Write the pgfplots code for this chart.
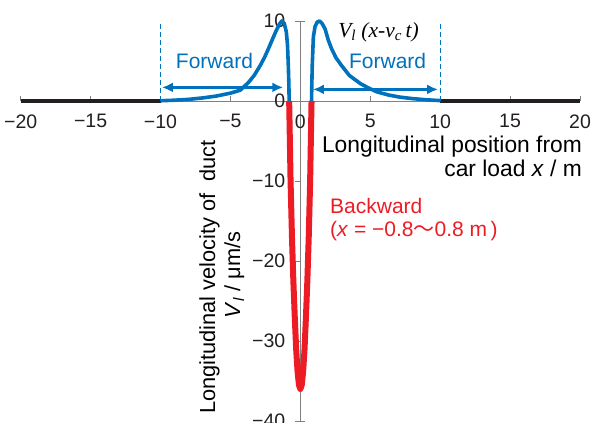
\documentclass[border=0pt]{standalone}
\usepackage{fontspec}
\setmainfont{Liberation Sans}
\newfontfamily\serif{Liberation Serif}
\newfontfamily\cjk{Noto Sans CJK JP}
\usepackage{pgfplots}
\pgfplotsset{compat=1.18}
\usetikzlibrary{arrows.meta}
\definecolor{cblue}{HTML}{0071BC}
\definecolor{cred}{HTML}{ED1C24}
\definecolor{cblack}{HTML}{231F20}
\definecolor{axgray}{HTML}{808080}
\newcommand\tickfont{\fontsize{19.5}{20}\selectfont}
\newcommand\lblfont{\fontsize{21}{24}\selectfont}
\newcommand\axlblfont{\fontsize{22.8}{26}\selectfont}
\newcommand\aylblfont{\fontsize{21.8}{26}\selectfont}
\begin{document}
\begin{tikzpicture}
\begin{axis}[
  scale only axis, width=559.3pt, height=400pt,
  xmin=-20, xmax=20, ymin=-40, ymax=10,
  axis x line=middle, axis y line=middle,
  axis line style={-, draw=axgray, line width=0.9pt},
  hide obscured x ticks=false, hide obscured y ticks=false,
  xtick={-20,-15,...,20}, ytick={-40,-30,...,10},
  xticklabels={−20,−15,−10,−5,0,5,10,15,20},
  yticklabels={−40,−30,−20,−10,0,10},
  tick label style={font=\tickfont, text=cblack},
  tick align=center, major tick length=5pt,
  tick style={draw=axgray, line width=0.9pt},
  xtick style={yshift=2.5pt},
  ytick style={xshift=-2.5pt},
  xticklabel style={anchor=north, yshift=-7.5pt},
  yticklabel style={anchor=east, xshift=-9pt},
  clip=false,
]
\coordinate (LL) at (axis cs:-20,-40);
\coordinate (UR) at (axis cs:20,10);
\addplot[cblack, line width=4pt] coordinates {(-20,0) (-10,0)};
\addplot[cblack, line width=4pt] coordinates {(10,0) (20,0)};
\addplot[cblue, line width=3.6pt, line join=round] coordinates {
(-10,0.03) (-9,0.1) (-8,0.2) (-7,0.38) (-6,0.62) (-5,0.98) (-4.3,1.35) (-3.72,2.3) (-3.3,3.2) (-2.88,4.4) (-2.55,5.5) (-2.29,6.5) (-2.0,7.7) (-1.75,8.7) (-1.5,9.6) (-1.33,10.0) (-1.15,9.7) (-1.0,8.6) (-0.92,7.0) (-0.86,4.4) (-0.82,2.0) (-0.8,0)};
\addplot[cblue, line width=3.6pt, line join=round] coordinates {
(0.8,0) (0.82,2.0) (0.85,4.4) (0.93,8.0) (1.05,9.3) (1.2,9.85) (1.37,10.0) (1.55,9.7) (1.77,9.0) (2.0,7.6) (2.24,6.5) (2.55,5.4) (2.96,4.4) (3.5,3.2) (4.27,2.2) (4.9,1.6) (5.46,1.15) (6.3,0.75) (7.13,0.48) (8,0.3) (9,0.15) (10,0.05)};
\addplot[cred, line width=6pt, line join=round] coordinates {
(-0.8,0) (-0.7,-10) (-0.6,-17) (-0.5,-22.5) (-0.4,-27) (-0.3,-31) (-0.2,-33.8) (-0.1,-35.5) (0,-36) (0.1,-35.5) (0.2,-33.8) (0.3,-31) (0.4,-27) (0.5,-22.5) (0.6,-17) (0.7,-10) (0.8,0)};
\draw[axgray, line width=0.9pt] (axis cs:0,10) -- ++(5pt,0pt);
\draw[axgray, line width=0.9pt] (axis cs:0,-40) -- ++(5pt,0pt);
\draw[cblue, line width=1.3pt, dash pattern=on 5pt off 3pt] (axis cs:-10,0) -- (axis cs:-10,9.6);
\draw[cblue, line width=1.3pt, dash pattern=on 5pt off 3pt] (axis cs:10,0) -- (axis cs:10,9.6);
\draw[cblue, line width=2.3pt, {Latex[length=11pt,width=10pt]}-{Latex[length=11pt,width=10pt]}] (axis cs:-9.9,1.7) -- (axis cs:-1.22,1.7);
\draw[cblue, line width=2.3pt, {Latex[length=11pt,width=10pt]}-{Latex[length=11pt,width=10pt]}] (axis cs:0.9,1.45) -- (axis cs:9.85,1.45);
\node[text=cblue, font=\lblfont] at (axis cs:-6.14,5.0) {Forward};
\node[text=cblue, font=\lblfont] at (axis cs:6.24,5.0) {Forward};
\node[anchor=west, inner sep=0pt, font=\serif\fontsize{21.5}{24}\selectfont\itshape] at (axis cs:2.7,8.6) {V\textsubscript{l}\ (x-v\textsubscript{c}\,t)};
\node[anchor=west, inner sep=0pt, text=cred, font=\lblfont] at (axis cs:2.12,-13.1) {Backward};
\node[anchor=west, inner sep=0pt, text=cred, font=\lblfont] at (axis cs:2.12,-16.3) {(\textit{x} = −0.8{\cjk 〜}0.8 m\,)};
\node[anchor=base east, inner sep=0pt, font=\axlblfont] at (axis cs:20.15,-6.5) {Longitudinal position from};
\node[anchor=base east, inner sep=0pt, font=\axlblfont] at (axis cs:20.15,-9.4) {car load \textit{x} / m};
\node[anchor=base, rotate=90, inner sep=0pt, font=\aylblfont] at (axis cs:-6.1,-22) {Longitudinal velocity of\ \ duct};
\node[anchor=base, rotate=90, inner sep=0pt, font=\aylblfont] at (axis cs:-4.3,-21.75) {\textit{V}\textsubscript{\textit{l}} / μm/s};
\end{axis}
\pgfresetboundingbox
\path ([shift={(-20.7pt,-2pt)}]LL) rectangle ([shift={(13pt,21pt)}]UR);
\end{tikzpicture}
\end{document}
